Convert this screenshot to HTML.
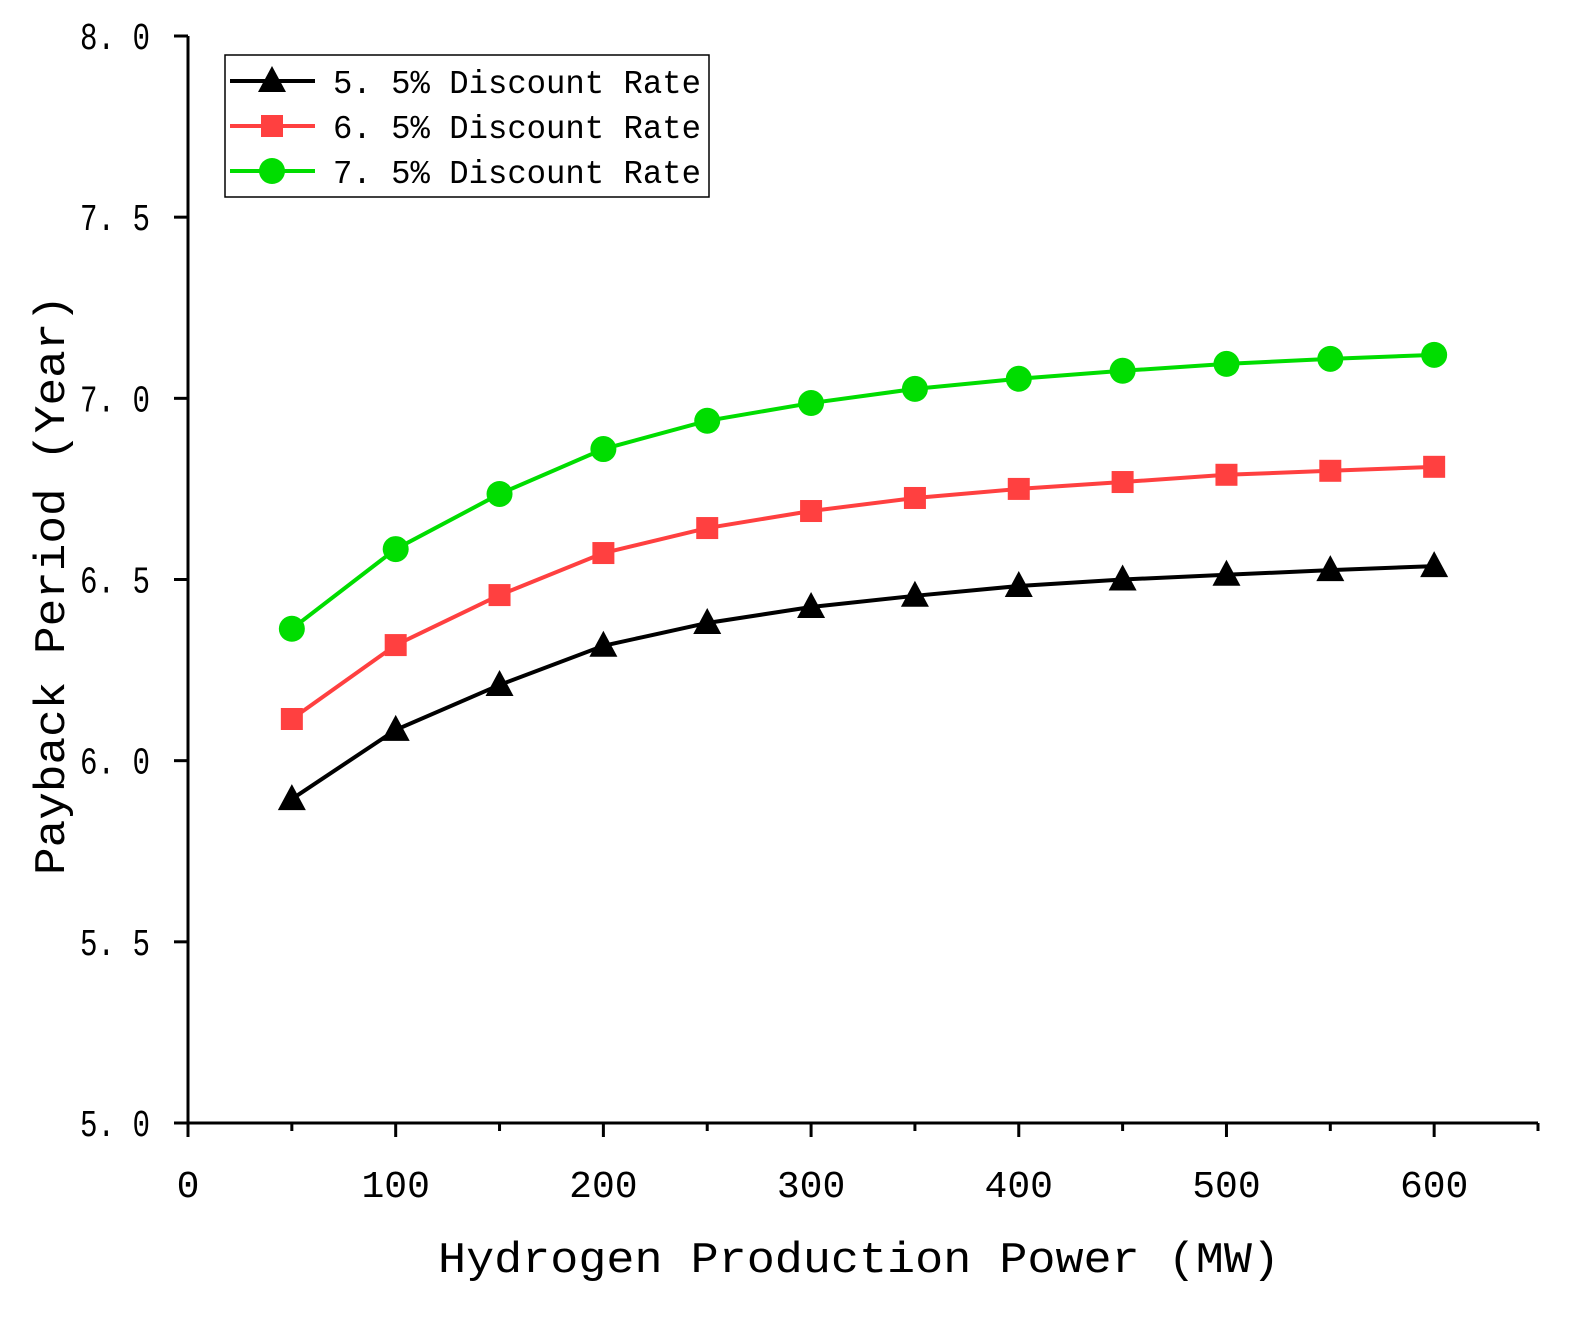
<!DOCTYPE html>
<html><head><meta charset="utf-8"><style>
html,body{margin:0;padding:0;background:#fff;}
svg text{font-family:"Liberation Mono","Noto Sans CJK SC",monospace;fill:#000;}
</style></head><body>
<svg id="chart" width="1570" height="1314" viewBox="0 0 1570 1314" xmlns="http://www.w3.org/2000/svg">
<g id="axes"></g>
<g id="series"></g>
<g id="legend"></g>
<text x="438" y="1272" font-size="44" textLength="842" lengthAdjust="spacingAndGlyphs">Hydrogen Production Power (MW)</text>
<text transform="translate(64,875) rotate(-90)" font-size="44" textLength="580" lengthAdjust="spacingAndGlyphs">Payback Period (Year)</text>
</svg>
<script>
const categories=[50,100,150,200,250,300,350,400,450,500,550,600];
const rate55=[5.894,6.085,6.209,6.317,6.38,6.424,6.455,6.482,6.50,6.513,6.526,6.537];
const rate65=[6.115,6.319,6.457,6.573,6.642,6.689,6.725,6.75,6.769,6.789,6.80,6.811];
const rate75=[6.364,6.584,6.736,6.86,6.938,6.987,7.026,7.054,7.076,7.095,7.109,7.12];
const xTicks=[0,100,200,300,400,500,600];
const yTicks=["5.0","5.5","6.0","6.5","7.0","7.5","8.0"];
const seriesNames=["5.5% Discount Rate","6.5% Discount Rate","7.5% Discount Rate"];

const NS="http://www.w3.org/2000/svg";
const X0=188,X1=1538,XMIN=0,XMAX=650,Y0=1123,Y1=36,YMIN=5,YMAX=8;
function xs(v){return X0+(v-XMIN)/(XMAX-XMIN)*(X1-X0);}
function ys(v){return Y0-(v-YMIN)/(YMAX-YMIN)*(Y0-Y1);}
function mk(tag,attrs,parent){const e=document.createElementNS(NS,tag);for(const k in attrs)e.setAttribute(k,attrs[k]);parent.appendChild(e);return e;}
const axes=document.getElementById('axes');
let l=mk('line',{x1:X0,y1:Y0,x2:X1,y2:Y0,stroke:'#000','stroke-width':3},axes);


l=mk('line',{x1:X0,y1:Y0+1,x2:X0,y2:Y1,stroke:'#000','stroke-width':3},axes);


for(let v=0;v<=650;v+=50){
  const major=v%100===0;
  const t=mk('line',{x1:xs(v),y1:Y0,x2:xs(v),y2:Y0+(major?14:8),stroke:'#000','stroke-width':3},axes);
  
  
}
xTicks.forEach(v=>{
  const t=mk('text',{x:xs(v),y:1197,'font-size':38,'text-anchor':'middle'},axes);
  t.textContent=String(v);
  
  
});
yTicks.forEach(s=>{
  const v=parseFloat(s);
  const tk=mk('line',{x1:X0,y1:ys(v),x2:X0-14,y2:ys(v),stroke:'#000','stroke-width':3},axes);
  
  
  const t=mk('text',{x:80,y:ys(v)+13,'font-size':38,textLength:70,lengthAdjust:'spacingAndGlyphs'},axes);
  t.textContent=s.replace('.','. ');
  
  
});
const colors=['#000000','#ff4040','#00dd00'];
const shapes=['tri','sq','circ'];
function marker(g,shape,x,y,c){
  if(shape==='tri') return mk('polygon',{points:`${x},${y-15} ${x-14},${y+11} ${x+14},${y+11}`,fill:c},g);
  if(shape==='sq') return mk('rect',{x:x-11,y:y-11,width:22,height:22,fill:c},g);
  return mk('circle',{cx:x,cy:y,r:13,fill:c},g);
}
const sg=document.getElementById('series');
[rate55,rate65,rate75].forEach((vals,si)=>{
  const g=mk('g',{},sg);
  
  
  const p=mk('polyline',{points:vals.map((v,i)=>xs(categories[i])+','+ys(v)).join(' '),fill:'none',stroke:colors[si],'stroke-width':4},g);
  
  
  vals.forEach((v,i)=>{
    const m=marker(g,shapes[si],xs(categories[i]),ys(v),colors[si]);
    
    
  });
});
const lg=document.getElementById('legend');
const box=mk('rect',{x:225,y:55,width:484,height:142,fill:'#fff',stroke:'#000','stroke-width':1.5},lg);


seriesNames.forEach((n,i)=>{
  const y=81+i*45;
  const g=mk('g',{},lg);
  
  
  mk('line',{x1:230,y1:y,x2:315,y2:y,stroke:colors[i],'stroke-width':4},g);
  marker(g,shapes[i],272,y,colors[i]);
  const t=mk('text',{x:333,y:y+12,'font-size':33,textLength:368,lengthAdjust:'spacingAndGlyphs'},g);
  t.textContent=n.replace('.','. ');
});
</script>
</body></html>
